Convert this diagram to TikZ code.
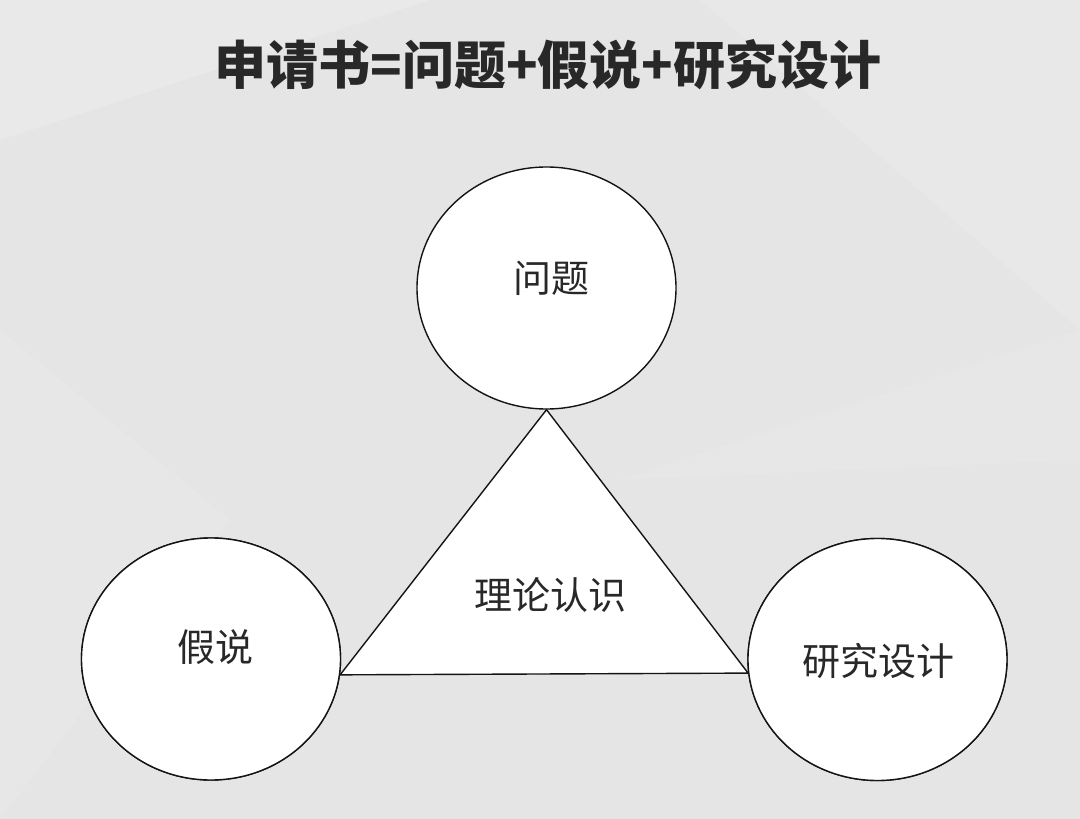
\documentclass[tikz,border=0pt]{standalone}
\usepackage{fontspec}
\usepackage{tikz}
\usetikzlibrary{shapes.geometric}
\newfontfamily\cjk{Noto Sans CJK SC}
\definecolor{bgclr}   {RGB}{229, 229, 229}
\definecolor{facetclr}{RGB}{238, 238, 238}
\definecolor{darktext}{RGB}{40,  40,  40}
\definecolor{lineclr} {RGB}{20,  20,  20}

\tikzset{
  bubble/.style={ellipse, draw=lineclr, line width=1.4pt, fill=white,
    minimum width=259pt, minimum height=242pt, inner sep=0pt},
  label/.style={font=\cjk\fontsize{38}{44}\selectfont, text=darktext}
}

\begin{document}
\begin{tikzpicture}[x=1pt, y=-1pt]
  % background with faint facets
  \fill[bgclr] (0,0) rectangle (1080,819);
  \fill[facetclr, opacity=0.45] (0,0) -- (430,0) -- (0,140) -- cycle;
  \fill[facetclr, opacity=0.35] (700,0) -- (1080,0) -- (1080,330) -- cycle;
  \fill[facetclr, opacity=0.3] (620,480) -- (1080,330) -- (1080,460) -- cycle;
  \fill[facetclr, opacity=0.25] (0,330) -- (230,520) -- (0,819) -- cycle;
  \useasboundingbox (0,0) rectangle (1080,819);
  % title
  \node[font=\cjk\bfseries\fontsize{52}{60}\selectfont, text=darktext] (title) at (548,65)
    {申请书=问题+假说+研究设计};
  % three circles
  \node[bubble] (wenti)   at (546.5,288)   {};
  \node[bubble] (jiashuo) at (211,659)     {};
  \node[bubble] (sheji)   at (877.5,659.5) {};
  % triangle between them
  \coordinate (tri-top)   at (wenti.south);
  \coordinate (tri-left)  at (jiashuo.-7);
  \coordinate (tri-right) at (sheji.186);
  \filldraw[fill=white, draw=lineclr, line width=1.4pt, line join=miter]
    (tri-top) -- (tri-left) -- (tri-right) -- cycle;
  % circles again on top of triangle corners
  \node[bubble] at (jiashuo) {};
  \node[bubble] at (sheji) {};
  % labels
  \node[label] (wenti-txt)   at (551,278) {问题};
  \node[label] (jiashuo-txt) at (215,647) {假说};
  \node[label] (sheji-txt)   at (878,661) {研究设计};
  \node[label] (lilun-txt)   at (550,595) {理论认识};
\end{tikzpicture}
\end{document}
